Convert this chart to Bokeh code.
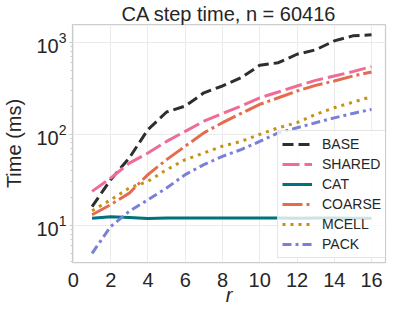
from bokeh.plotting import figure
from bokeh.models import Range1d, Legend, LegendItem, FixedTicker
from bokeh.embed import file_html
from bokeh.resources import INLINE

r_vals = list(range(1, 17))
BASE = [16.1, 31.7, 54.8, 112, 174, 202, 282, 335, 413, 564, 602, 745, 832, 1043, 1183, 1214]
SHARED = [23.6, 33, 48, 62, 83, 107, 138, 168, 202, 249, 288, 335, 386, 431, 481, 546]
CAT = [12.0, 12.5, 12.2, 11.9, 12.1, 12.1, 12.1, 12.1, 12.1, 12.1, 12.1, 12.0, 12.1, 12.1, 12.0, 12.0]
COARSE = [13.1, 16.9, 22.6, 36, 52.5, 73.6, 103, 133, 168, 211, 249, 295, 340, 380, 431, 477]
MCELL = [14.5, 19.1, 25.7, 30.4, 40.7, 52.5, 62, 73.6, 83, 99, 117, 133, 164, 194, 223, 256]
PACK = [4.97, 9.75, 14.3, 19.1, 25.7, 36, 46.3, 57, 67.6, 83, 103, 117, 133, 150, 168, 186]

series_names = ["BASE", "SHARED", "CAT", "COARSE", "MCELL", "PACK"]
series_data = [BASE, SHARED, CAT, COARSE, MCELL, PACK]
colors = ["#2e2e2e", "#f06c96", "#00737a", "#e56b4e", "#c69214", "#7a80d8"]
dashes = ["11 5", "17 5", "solid", "20 4 3 4", "3 5", "9 4 3 4"]
x_ticks = [0, 2, 4, 6, 8, 10, 12, 14, 16]
title_text = "CA step time, n = 60416"
x_label = "r"
y_label = "Time (ms)"

FONT = "Liberation Sans"
TXT = "#262626"

p = figure(width=387, height=308, output_backend="svg", toolbar_location=None,
           y_axis_type="log", title=title_text,
           x_range=Range1d(-0.05, 16.75), y_range=Range1d(3.94, 1575),
           min_border_left=10, min_border_right=2, min_border_top=0, min_border_bottom=10)
p.background_fill_color = "white"
p.border_fill_color = "white"
p.outline_line_color = "#cccccc"
p.outline_line_width = 1.25

p.title.text_font = FONT
p.title.text_font_size = "20px"
p.title.text_font_style = "normal"
p.title.text_color = TXT
p.title.align = "center"
p.title.standoff = 0
p.title.offset = 0

items = []
for name, data, c, d in zip(series_names, series_data, colors, dashes):
    rr = p.line(r_vals, data, line_color=c, line_width=3, line_dash=d)
    items.append(LegendItem(label=name, renderers=[rr]))

p.xaxis.ticker = FixedTicker(ticks=x_ticks)
p.xgrid.ticker = FixedTicker(ticks=x_ticks)
for g in (p.xgrid, p.ygrid):
    g.grid_line_color = "#ebebeb"
    g.grid_line_width = 1

for ax in (p.xaxis, p.yaxis):
    ax.axis_line_color = None
    ax.major_label_text_font = FONT
    ax.major_label_text_font_size = "20px"
    ax.major_label_text_color = TXT
    ax.axis_label_text_font = FONT
    ax.axis_label_text_font_size = "20px"
    ax.axis_label_text_color = TXT
    ax.axis_label_text_line_height = 0.9

p.xaxis.major_tick_line_color = None
p.xaxis.minor_tick_line_color = None
p.xaxis.major_tick_out = 0
p.xaxis.major_label_standoff = 10
p.xaxis.axis_label = x_label
p.xaxis.axis_label_text_font_style = "italic"
p.xaxis.axis_label_standoff = -6

p.yaxis.major_tick_line_color = "#cccccc"
p.yaxis.minor_tick_line_color = "#cccccc"
p.yaxis.major_tick_out = 3
p.yaxis.major_tick_in = 0
p.yaxis.minor_tick_out = 2
p.yaxis.minor_tick_in = 0
p.yaxis.major_label_standoff = 3
p.yaxis.axis_label = y_label
p.yaxis.axis_label_text_font_style = "normal"
p.yaxis.axis_label_standoff = 8

legend = Legend(items=items, location=(205, 4))
legend.label_text_font = FONT
legend.label_text_font_size = "14px"
legend.label_text_color = TXT
legend.glyph_width = 30
legend.glyph_height = 18
legend.label_height = 18
legend.label_standoff = 10
legend.spacing = 2
legend.padding = 4
legend.margin = 0
legend.border_line_color = "#cccccc"
legend.border_line_width = 1
legend.background_fill_color = "white"
legend.background_fill_alpha = 0.8
p.add_layout(legend, "center")

open("out.html", "w").write(file_html(p, INLINE))
